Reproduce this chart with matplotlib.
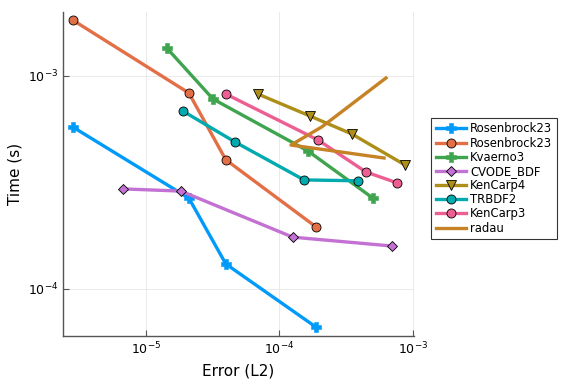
import matplotlib
matplotlib.use("Agg")
import matplotlib.pyplot as plt
from matplotlib.ticker import LogLocator, NullLocator

ros_blue_x = [2.84e-6, 2.10e-5, 3.97e-5, 1.87e-4]
ros_blue_y = [5.76e-4, 2.67e-4, 1.31e-4, 6.63e-5]
ros_or_x = [2.84e-6, 2.10e-5, 3.97e-5, 1.87e-4]
ros_or_y = [1.83e-3, 8.32e-4, 4.04e-4, 1.96e-4]
kv3_x = [1.44e-5, 3.18e-5, 1.63e-4, 5.01e-4]
kv3_y = [1.35e-3, 7.80e-4, 4.45e-4, 2.67e-4]
cvode_x = [6.73e-6, 1.83e-5, 1.26e-4, 6.97e-4]
cvode_y = [2.95e-4, 2.88e-4, 1.75e-4, 1.59e-4]
kc4_x = [6.90e-5, 1.69e-4, 3.49e-4, 8.71e-4]
kc4_y = [8.23e-4, 6.49e-4, 5.34e-4, 3.82e-4]
trbdf2_x = [1.89e-5, 4.65e-5, 1.53e-4, 3.87e-4]
trbdf2_y = [6.85e-4, 4.90e-4, 3.25e-4, 3.22e-4]
kc3_x = [3.97e-5, 1.94e-4, 4.45e-4, 7.59e-4]
kc3_y = [8.23e-4, 5.01e-4, 3.54e-4, 3.15e-4]
radau_x = [6.07e-4, 1.22e-4, 2.08e-4, 6.28e-4]
radau_y = [4.12e-4, 4.74e-4, 5.77e-4, 9.79e-4]

series = [
    ("Rosenbrock23", ros_blue_x, ros_blue_y, "#009AFA", "P", 6.5),
    ("Rosenbrock23", ros_or_x, ros_or_y, "#E36F47", "o", 6.5),
    ("Kvaerno3", kv3_x, kv3_y, "#3EA44E", "P", 6.5),
    ("CVODE_BDF", cvode_x, cvode_y, "#C371D2", "D", 5),
    ("KenCarp4", kc4_x, kc4_y, "#AC8E18", "v", 7.5),
    ("TRBDF2", trbdf2_x, trbdf2_y, "#00AAAE", "o", 6.5),
    ("KenCarp3", kc3_x, kc3_y, "#ED5E93", "o", 6.5),
    ("radau", radau_x, radau_y, "#C68225", None, 0),
]

fig = plt.figure(figsize=(5.76, 3.84), dpi=100)
ax = fig.add_axes([0.109, 0.125, 0.61, 0.844])

for name, xs, ys, c, m, ms in series:
    if m is None:
        ax.plot(xs, ys, color=c, lw=2.4, label=name)
    elif m == "P":
        ax.plot(xs, ys, color=c, lw=2.4, marker=m, ms=ms, mec=c, mew=0.4, label=name)
    else:
        ax.plot(xs, ys, color=c, lw=2.4, marker=m, ms=ms, mec="black", mew=0.6, label=name)

ax.set_xscale("log")
ax.set_yscale("log")
ax.set_xlim(2.39e-6, 1.02e-3)
ax.set_ylim(6.01e-5, 2.0e-3)
ax.xaxis.set_major_locator(LogLocator(base=10, numticks=10))
ax.yaxis.set_major_locator(LogLocator(base=10, numticks=10))
ax.xaxis.set_minor_locator(NullLocator())
ax.yaxis.set_minor_locator(NullLocator())
ax.grid(True, color="#e6e6e6", lw=0.6)
ax.set_axisbelow(True)
for s in ["top", "right"]:
    ax.spines[s].set_visible(False)
for s in ["left", "bottom"]:
    ax.spines[s].set_color("#555555")
    ax.spines[s].set_linewidth(1.0)
ax.tick_params(direction="in", length=4, width=0.8, colors="#555555", labelcolor="black", labelsize=9)
ax.set_xlabel("Error (L2)", fontsize=11)
ax.set_ylabel("Time (s)", fontsize=11)

leg = ax.legend(loc="center left", bbox_to_anchor=(0.748, 0.535), bbox_transform=fig.transFigure,
                fontsize=8.4, frameon=True, fancybox=False, edgecolor="black",
                borderpad=0.4, labelspacing=0.1, handlelength=2.6, handletextpad=0.35,
                borderaxespad=0.0)
leg.get_frame().set_linewidth(0.8)

fig.savefig("out.png", dpi=100)
